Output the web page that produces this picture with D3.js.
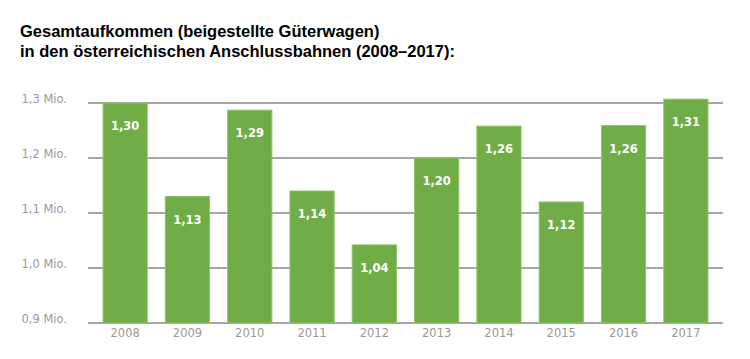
<!DOCTYPE html>
<html><head><meta charset="utf-8">
<script src="https://cdn.jsdelivr.net/npm/d3@7"></script>
<style>body{margin:0;background:#fff}svg{display:block}</style>
</head><body>
<script>
const years = ["2008","2009","2010","2011","2012","2013","2014","2015","2016","2017"];
const values = [1.30,1.13,1.287,1.14,1.042,1.20,1.258,1.12,1.259,1.307];
const valueLabels = ["1,30","1,13","1,29","1,14","1,04","1,20","1,26","1,12","1,26","1,31"];
const yTicks = [0.9,1.0,1.1,1.2,1.3];
const yTickLabels = ["0,9 Mio.","1,0 Mio.","1,1 Mio.","1,2 Mio.","1,3 Mio."];
const titleLines = ["Gesamtaufkommen (beigestellte Güterwagen)","in den österreichischen Anschlussbahnen (2008–2017):"];

const W=750,H=359;
const svg=d3.select("body").append("svg").attr("width",W).attr("height",H);
const font="Verdana, 'DejaVu Sans', sans-serif";

const title=svg.append("text").attr("x",20).attr("font-family","'Liberation Sans', Arial, sans-serif").attr("font-weight","bold")
 .attr("font-size",16.5).attr("fill","#000");
title.selectAll("tspan").data(titleLines).join("tspan").attr("x",20)
 .attr("y",(d,i)=>37+i*20).text(d=>d);

const y=d3.scaleLinear().domain([0.9,1.3]).range([323,103]);
const x=d3.scaleBand().domain(years).range([94,717]).paddingInner(0.29).paddingOuter(0.145);

const grid=svg.append("g");
grid.selectAll("line").data(yTicks).join("line")
 .attr("x1",88).attr("x2",723).attr("y1",d=>y(d)).attr("y2",d=>y(d))
 .attr("stroke","#a6a6a6").attr("stroke-width",2);

const yAxis=d3.axisLeft(y).tickValues(yTicks).tickSize(0).tickPadding(0)
 .tickFormat((d,i)=>yTickLabels[i]);
const ya=svg.append("g").attr("transform","translate(67,0)").call(yAxis);
ya.select(".domain").remove();
ya.selectAll("text").attr("font-family",font).attr("font-size",11.5).attr("fill","#999")
 .attr("dy","-0.05em");

svg.append("g").selectAll("rect").data(years).join("rect")
 .attr("x",d=>x(d)).attr("width",x.bandwidth())
 .attr("y",(d,i)=>y(values[i])).attr("height",(d,i)=>y(0.9)-y(values[i]))
 .attr("fill","#70ad47").attr("stroke","#8fc46d").attr("stroke-width",1);

svg.append("g").selectAll("text").data(years).join("text")
 .attr("x",d=>x(d)+x.bandwidth()/2).attr("y",(d,i)=>y(values[i])+27)
 .attr("text-anchor","middle").attr("font-family",font).attr("font-weight","bold")
 .attr("font-size",11.5).attr("fill","#fff").text((d,i)=>valueLabels[i]);

const xAxis=d3.axisBottom(x).tickSize(0).tickPadding(0);
const xa=svg.append("g").attr("transform","translate(0,323)").call(xAxis);
xa.select(".domain").remove();
xa.selectAll("text").attr("font-family",font).attr("font-size",11.5).attr("fill","#999")
 .attr("dy","1.25em");
</script>
</body></html>
